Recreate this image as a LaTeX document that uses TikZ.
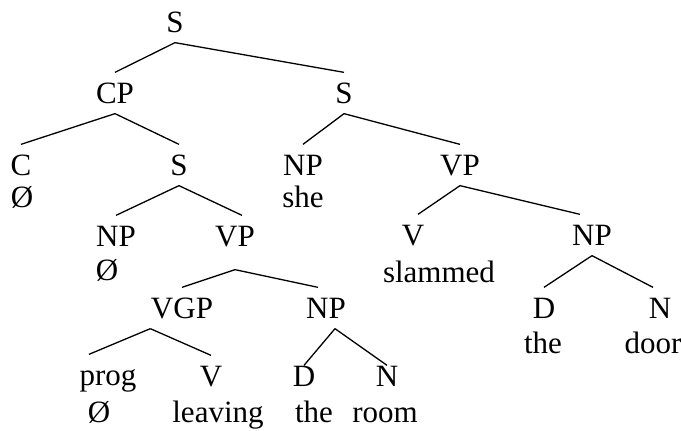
\documentclass[tikz,border=0pt]{standalone}
\usepackage{fontspec}
\setmainfont{Liberation Serif}
\begin{document}
\begin{tikzpicture}[x=1pt, y=-1pt, line width=1.3pt,
    cat/.style={anchor=base, inner xsep=0pt, inner ysep=10pt, text height=20pt, text depth=0pt, font=\fontsize{31}{36}\selectfont},
    word/.style={anchor=base, inner sep=0pt, font=\fontsize{31}{36}\selectfont}]
  \useasboundingbox (0,0) rectangle (681,431);

  % categories
  \node[cat] (s1) at (175,32) {S};
  \node[cat] (cp) at (115,103) {CP};
  \node[cat] (s2) at (344,103) {S};
  \node[cat] (c) at (21,175) {C};
  \node[cat] (s3) at (179,175) {S};
  \node[cat] (np1) at (303,175) {NP};
  \node[cat] (vp1) at (460,175) {VP};
  \node[cat] (np2) at (116,246) {NP};
  \node[cat] (vp2) at (235,246) {VP};
  \node[cat] (v1) at (413,245) {V};
  \node[cat] (np3) at (592,245) {NP};
  \node[cat] (vgp) at (182,318) {VGP};
  \node[cat] (np4) at (326,318) {NP};
  \node[cat] (d1) at (544,318) {D};
  \node[cat] (n1) at (660,318) {N};
  \node[cat] (prog) at (108,385) {prog};
  \node[cat] (v2) at (211,386) {V};
  \node[cat] (d2) at (304,386) {D};
  \node[cat] (n2) at (387,386) {N};

  % words
  \node[word] (w1) at (22,207) {Ø};
  \node[word] (w2) at (303,207) {she};
  \node[word] (w3) at (107,280) {Ø};
  \node[word] (w4) at (439,282) {slammed};
  \node[word] (w5) at (543,353) {the};
  \node[word] (w6) at (653,353) {door};
  \node[word] (w7) at (99,422) {Ø};
  \node[word] (w8) at (218,422) {leaving};
  \node[word] (w9) at (314,422) {the};
  \node[word] (w10) at (385,422) {room};

  % branches
  \draw (s1.south) -- (cp.north);
  \draw (s1.south) -- (s2.north);
  \draw (cp.south) -- (c.north);
  \draw (cp.south) -- (s3.north);
  \draw (s2.south) -- (np1.north);
  \draw (s2.south) -- (vp1.north);
  \draw (s3.south) -- (np2.north);
  \draw (s3.south) -- ([xshift=7pt]vp2.north);
  \draw (vp1.south) -- ([xshift=5pt]v1.north);
  \draw (vp1.south) -- ([xshift=-12pt]np3.north);
  \draw ([yshift=-13pt]vp2.south) -- (vgp.north);
  \draw ([yshift=-13pt]vp2.south) -- ([xshift=-8pt]np4.north);
  \draw (np3.south) -- (d1.north);
  \draw (np3.south) -- ([xshift=-7pt]n1.north);
  \draw (vgp.south west) -- ([xshift=10pt]prog.north west);
  \draw (vgp.south west) -- (v2.north);
  \draw ([xshift=9pt]np4.south) -- ([yshift=-10pt]d2.north);
  \draw ([xshift=9pt]np4.south) -- ([yshift=-10pt]n2.north);
\end{tikzpicture}
\end{document}
